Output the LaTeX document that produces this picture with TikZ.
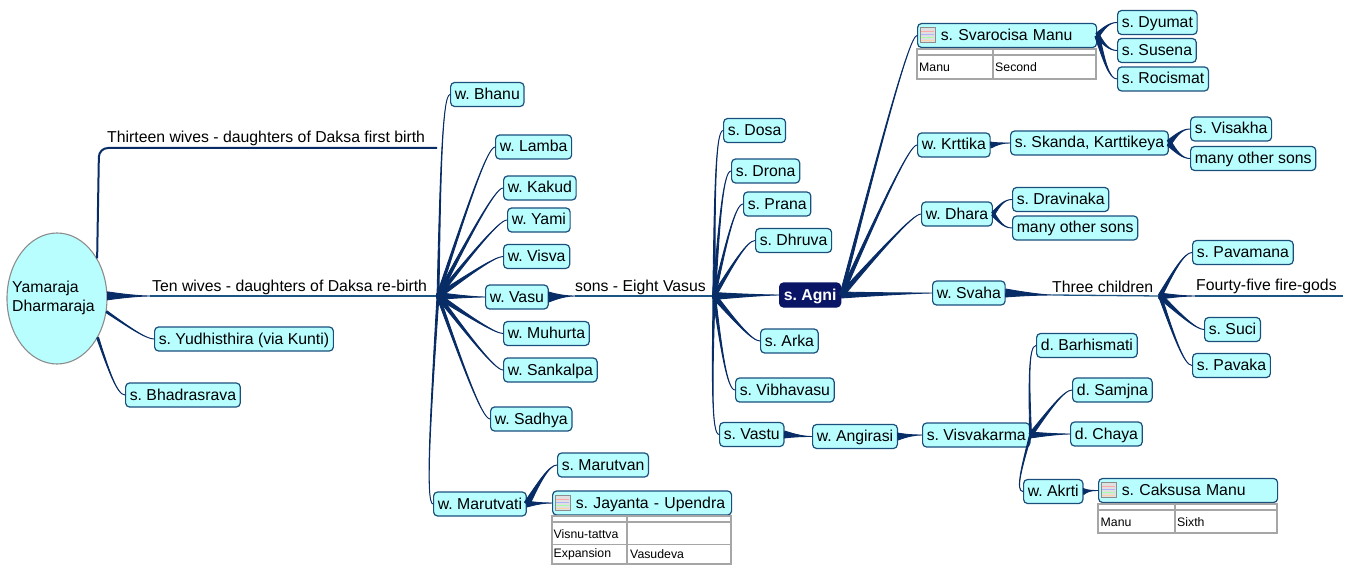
\documentclass[tikz,border=0pt]{standalone}
\usepackage{fontspec}
\setmainfont{Liberation Sans}
\frenchspacing
\usetikzlibrary{calc,shapes.geometric}

\definecolor{topicfill}{HTML}{B9FEFF}
\definecolor{topicedge}{HTML}{1A4F7C}
\definecolor{branchblue}{HTML}{082C66}
\definecolor{linkblue}{HTML}{1B5585}
\definecolor{agniblue}{HTML}{0A1566}
\definecolor{tablegray}{HTML}{A6A6A6}

\tikzset{
  topic/.style = {rectangle, draw=topicedge, fill=topicfill, rounded corners=4pt,
                  line width=1.2pt, anchor=west, inner xsep=4.2pt, inner ysep=4.5pt,
                  text height=12.5pt, text depth=2.5pt, font=\fontsize{15.8}{18}\selectfont},
  icontopic/.style = {topic, text width=#1, align=left},
  maintopic/.style = {topic, fill=agniblue, draw=agniblue, text=white,
                      font=\fontsize{15.8}{18}\selectfont\bfseries},
  caption/.style = {anchor=west, inner sep=0pt, font=\fontsize{15.8}{18}\selectfont},
  cell/.style = {anchor=west, inner sep=0pt, font=\fontsize{12.3}{14}\selectfont},
  twig/.style = {fill=branchblue, draw=branchblue, line width=0.9pt, line join=round},
  rule/.style = {draw=linkblue, line width=1.3pt},
  tablepart/.style = {draw=tablegray, line width=1.8pt},
  tableicon/.pic = {
    \draw[fill=black!12, draw=black!45, line width=0.6pt] (3,-8) rectangle (18,7);
    \foreach \yy/\cc in {-4/red!35, -1/blue!30, 2/green!35, 5/orange!35}
      \draw[\cc, line width=1pt] (4,\yy) -- (17,\yy);
  }
}

% tapered branch: thick at the parent, thin at the child
\newcommand{\branch}[3][1.5]{%
  \coordinate (ctrlb) at ($(#3)+(-8,0)$);
  \coordinate (ctrla) at ($(#2)!.55!(ctrlb)$);
  \filldraw[twig] ($(#2)!#1pt!90:(#3)$)
    .. controls ($(ctrla)!#1*.3pt!90:(#3)$) and (ctrlb) .. (#3)
    .. controls (ctrlb) and ($(ctrla)!#1*.3pt!-90:(#3)$) .. ($(#2)!#1pt!-90:(#3)$) -- cycle;
}
% x1,y1,x2,y2,column,header bottom
\newcommand{\tableframe}[6]{%
  \draw[tablepart] (#1,#2) rectangle (#3,#4);
  \draw[tablepart] (#1,#6) -- (#3,#6);
  \draw[tablepart] (#5,#2) -- (#5,#4);
}

\begin{document}
\begin{tikzpicture}[x=1pt, y=-1pt]
\useasboundingbox (0,0) rectangle (1350,575);

% root
\node[ellipse, draw=black!45, fill=topicfill, line width=1.1pt, minimum width=100pt,
      minimum height=131pt, inner sep=0pt] (root) at (57,298.5) {};
\node[caption, align=left, font=\fontsize{15.8}{19}\selectfont] (rootlabel) at (12,297.5) {Yamaraja\\Dharmaraja};

% captions over lines
\node[caption] (thirteen) at (107,138) {Thirteen wives - daughters of Daksa first birth};
\node[caption] (tenwives) at (152,287) {Ten wives - daughters of Daksa re-birth};
\node[caption] (eightvasus) at (575,287) {sons - Eight Vasus};
\node[caption] (threechildren) at (1052,287) {Three children};
\node[caption] (firegods) at (1196,286) {Fourty-five fire-gods};
\coordinate (thirteenend) at (437,148);
\coordinate (wivesstart) at (150,296);
\coordinate (wiveshub) at (438,296);
\coordinate (sonsstart) at (575,296);
\coordinate (sonshub) at (714,296);
\coordinate (childstart) at (1053,295);
\coordinate (childhub) at (1160,296);
\coordinate (firestart) at (1195,296);
\coordinate (fireend) at (1343,296);

% children of root
\node[topic] (yudhisthira) at (154,339) {s. Yudhisthira (via Kunti)};
\node[topic] (bhadrasrava) at (125,395) {s. Bhadrasrava};

% wives
\node[topic] (bhanu) at (450,94.5) {w. Bhanu};
\node[topic] (lamba) at (495,147) {w. Lamba};
\node[topic] (kakud) at (503,188) {w. Kakud};
\node[topic] (yami) at (507,220) {w. Yami};
\node[topic] (visva) at (503,256.5) {w. Visva};
\node[topic] (vasu) at (485,297) {w. Vasu};
\node[topic] (muhurta) at (503,333.5) {w. Muhurta};
\node[topic] (sankalpa) at (503,370) {w. Sankalpa};
\node[topic] (sadhya) at (490,419) {w. Sadhya};
\node[topic] (marutvati) at (433,504) {w. Marutvati};
\node[topic] (marutvan) at (557,465) {s. Marutvan};
\node[icontopic=170.6pt] (jayanta) at (552,503) {\hspace*{19pt}s. Jayanta - Upendra};
\pic at (jayanta.west) {tableicon};

% table of Jayanta
\tableframe{552}{516}{731}{564}{627}{522}
\draw[draw=tablegray, line width=1pt] (552,544) -- (731,544);
\node[cell] (jayantakey) at (553.5,534) {Visnu-tattva};
\node[cell] (jayantaexp) at (553.5,554.5) {Expansion};
\node[cell] (jayantaval) at (630,554.5) {Vasudeva};

% Vasus
\node[topic] (dosa) at (723,130.5) {s. Dosa};
\node[topic] (drona) at (731,171) {s. Drona};
\node[topic] (prana) at (743,204) {s. Prana};
\node[topic] (dhruva) at (755,240.5) {s. Dhruva};
\node[maintopic] (agni) at (779,295) {s. Agni};
\node[topic] (arka) at (760,341) {s. Arka};
\node[topic] (vibhavasu) at (735,390) {s. Vibhavasu};
\node[topic] (vastu) at (719,434.5) {s. Vastu};
\node[topic] (angirasi) at (812,436.5) {w. Angirasi};
\node[topic] (visvakarma) at (922,435) {s. Visvakarma};

% Visvakarma
\node[topic] (barhismati) at (1036,345.5) {d. Barhismati};
\node[topic] (samjna) at (1072,390) {d. Samjna};
\node[topic] (chaya) at (1070,434) {d. Chaya};
\node[topic] (akrti) at (1023,491.5) {w. Akrti};
\node[icontopic=170.6pt] (caksusa) at (1098,490.5) {\hspace*{19pt}s. Caksusa Manu};
\pic at (caksusa.west) {tableicon};
\tableframe{1098}{504}{1277}{533}{1175}{510}
\node[cell] (caksusakey) at (1100.5,522.5) {Manu};
\node[cell] (caksusaval) at (1177,522.5) {Sixth};

% Agni
\node[icontopic=170.6pt] (svarocisa) at (917,35.5) {\hspace*{19pt}s. Svarocisa Manu};
\pic at (svarocisa.west) {tableicon};
\tableframe{917}{49}{1096}{79}{993}{55}
\node[cell] (svarocisakey) at (919,67) {Manu};
\node[cell] (svarocisaval) at (995,67) {Second};
\node[topic] (dyumat) at (1117,22.5) {s. Dyumat};
\node[topic] (susena) at (1117,50.5) {s. Susena};
\node[topic] (rocismat) at (1117,79) {s. Rocismat};
\node[topic] (krttika) at (917,145) {w. Krttika};
\node[topic] (skanda) at (1010,143) {s. Skanda, Karttikeya};
\node[topic] (visakha) at (1190,129) {s. Visakha};
\node[topic] (skandamany) at (1190,158.5) {many other sons};
\node[topic] (dhara) at (921,214) {w. Dhara};
\node[topic] (dravinaka) at (1012,199.5) {s. Dravinaka};
\node[topic] (dharamany) at (1012,228) {many other sons};
\node[topic] (svaha) at (932,293) {w. Svaha};
\node[topic] (pavamana) at (1192,252.5) {s. Pavamana};
\node[topic] (suci) at (1204,329.5) {s. Suci};
\node[topic] (pavaka) at (1192,365.5) {s. Pavaka};

% lines from root
\draw[draw=branchblue, line width=2pt, rounded corners=9pt] (root.45) -- (99,148) -- (thirteenend);
\branch[4]{root.3}{wivesstart}
\draw[rule] (wivesstart) -- (wiveshub);
\branch[1]{root.-15}{yudhisthira.west}
\branch[1]{root.-44}{bhadrasrava.west}

% branches to wives
\branch[1]{wiveshub}{bhanu.west}
\branch[1.5]{wiveshub}{lamba.west}
\branch[2]{wiveshub}{kakud.west}
\branch[2]{wiveshub}{yami.west}
\branch[2.5]{wiveshub}{visva.west}
\branch[3.5]{wiveshub}{vasu.west}
\branch[2.5]{wiveshub}{muhurta.west}
\branch[2]{wiveshub}{sankalpa.west}
\branch[1.5]{wiveshub}{sadhya.west}
\branch[1]{wiveshub}{marutvati.west}
\branch[3]{marutvati.east}{marutvan.west}
\branch[3]{marutvati.east}{jayanta.west}

% branches to Vasus
\branch[5]{vasu.east}{sonsstart}
\draw[rule] (sonsstart) -- (sonshub);
\branch[1.2]{sonshub}{dosa.west}
\branch[1.5]{sonshub}{drona.west}
\branch[1.5]{sonshub}{prana.west}
\branch[2]{sonshub}{dhruva.west}
\branch[3.5]{sonshub}{agni.west}
\branch[2.5]{sonshub}{arka.west}
\branch[1.5]{sonshub}{vibhavasu.west}
\branch[1]{sonshub}{vastu.west}
\branch[3.5]{vastu.east}{angirasi.west}
\branch[3.5]{angirasi.east}{visvakarma.west}
\branch[1]{visvakarma.east}{barhismati.west}
\branch[2]{visvakarma.east}{samjna.west}
\branch[3]{visvakarma.east}{chaya.west}
\branch[1]{visvakarma.east}{akrti.west}
\branch[3]{akrti.east}{caksusa.west}

% branches from Agni
\branch[1.5]{agni.east}{svarocisa.west}
\branch[2]{agni.east}{krttika.west}
\branch[2.5]{agni.east}{dhara.west}
\branch[3]{agni.east}{svaha.west}
\branch[2.5]{svarocisa.east}{dyumat.west}
\branch[2.5]{svarocisa.east}{susena.west}
\branch[2.5]{svarocisa.east}{rocismat.west}
\branch[3]{krttika.east}{skanda.west}
\branch[3]{skanda.east}{visakha.west}
\branch[3]{skanda.east}{skandamany.west}
\branch[2]{dhara.east}{dravinaka.west}
\branch[2]{dhara.east}{dharamany.west}
\branch[4]{svaha.east}{childstart}
\draw[rule] (childstart) -- (childhub);
\branch[2]{childhub}{pavamana.west}
\branch[3]{childhub}{firestart}
\draw[rule] (firestart) -- (fireend);
\branch[2.5]{childhub}{suci.west}
\branch[1.5]{childhub}{pavaka.west}
\end{tikzpicture}
\end{document}
